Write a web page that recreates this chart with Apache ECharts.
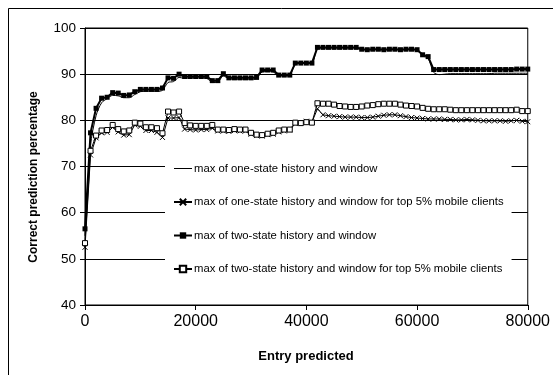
<!DOCTYPE html>
<html><head><meta charset="utf-8">
<script src="https://cdn.jsdelivr.net/npm/echarts@6/dist/echarts.min.js"></script>
<style>html,body{margin:0;padding:0;background:#fff}#c{width:553px;height:375px}</style>
</head><body><div id="c"></div>
<script>
var entries = [0,1000,2000,3000,4000,5000,6000,7000,8000,9000,10000,11000,12000,13000,14000,15000,16000,17000,18000,19000,20000,21000,22000,23000,24000,25000,26000,27000,28000,29000,30000,31000,32000,33000,34000,35000,36000,37000,38000,39000,40000,41000,42000,43000,44000,45000,46000,47000,48000,49000,50000,51000,52000,53000,54000,55000,56000,57000,58000,59000,60000,61000,62000,63000,64000,65000,66000,67000,68000,69000,70000,71000,72000,73000,74000,75000,76000,77000,78000,79000,80000];

var oneState = [55.0,74.5,81.0,83.8,84.7,85.4,85.3,84.9,84.9,85.6,86.2,86.3,86.3,86.3,86.5,88.2,88.4,89.3,89.1,89.2,89.2,89.2,89.1,88.2,88.3,89.6,89.0,88.9,88.9,88.9,88.9,89.1,90.5,90.6,90.5,89.6,89.6,89.7,92.2,92.3,92.3,92.3,95.6,95.7,95.7,95.7,95.7,95.7,95.7,95.7,95.3,95.3,95.3,95.3,95.3,95.3,95.3,95.3,95.3,95.3,95.3,94.0,93.4,90.4,89.9,90.0,90.1,90.1,90.1,90.1,90.1,90.1,90.1,90.1,90.2,90.2,90.2,90.2,90.2,90.2,90.2];

var oneStateTop = [52.5,72.5,76.2,77.3,77.4,78.5,77.5,76.8,76.9,79.0,78.7,77.8,77.8,77.4,76.3,80.5,80.5,80.6,78.1,78.0,77.9,78.0,78.0,78.3,77.7,77.7,77.6,77.8,77.7,77.7,77.0,76.7,76.6,76.9,77.0,77.5,77.7,77.9,79.3,79.5,79.8,79.6,82.5,81.2,81.0,80.9,80.8,80.7,80.7,80.7,80.6,80.6,80.7,80.9,81.1,81.2,81.2,81.0,80.8,80.6,80.5,80.4,80.3,80.3,80.3,80.2,80.2,80.1,80.1,80.2,80.1,80.0,79.9,79.9,79.9,79.9,79.8,79.9,80.0,79.8,79.7];

var twoState = [56.5,77.3,82.6,84.8,85.0,86.0,85.9,85.4,85.5,86.2,86.7,86.7,86.7,86.7,87.0,89.2,89.1,90.0,89.5,89.5,89.5,89.5,89.5,88.6,88.6,90.1,89.2,89.2,89.2,89.2,89.2,89.3,90.9,90.9,90.9,89.8,89.8,89.8,92.4,92.4,92.4,92.4,95.8,95.8,95.8,95.8,95.8,95.8,95.8,95.8,95.4,95.3,95.4,95.4,95.3,95.4,95.4,95.3,95.4,95.4,95.3,94.2,93.8,91.0,91.0,91.0,91.0,91.0,91.0,91.0,91.0,91.0,91.0,91.0,91.0,91.0,91.0,91.0,91.1,91.1,91.1];

var twoStateTop = [53.4,73.4,76.7,77.8,77.9,79.0,78.1,77.6,77.8,79.5,79.3,78.5,78.5,78.3,77.2,81.9,81.7,81.9,79.4,78.9,78.8,78.8,78.8,79.0,78.0,78.0,77.9,78.1,78.0,78.0,77.3,76.9,76.8,77.1,77.3,77.8,78.0,78.0,79.5,79.4,79.6,79.5,83.7,83.6,83.6,83.4,83.1,83.0,82.9,82.9,83.0,83.2,83.3,83.5,83.6,83.6,83.6,83.4,83.2,83.1,83.0,82.7,82.5,82.4,82.4,82.4,82.3,82.2,82.2,82.2,82.2,82.2,82.2,82.2,82.2,82.2,82.2,82.2,82.3,82.0,82.0];

var seriesNames = [
  'max of one-state history and window',
  'max of one-state history and window for top 5% mobile clients',
  'max of two-state history and window',
  'max of two-state history and window for top 5% mobile clients'
];
var yTicks = [40, 100, 10];
var xTicks = [0, 80000, 20000];
var xTitle = 'Entry predicted';
var yTitle = 'Correct prediction percentage';

function pairs(vals){ return entries.map(function(e,i){ return [e, vals[i]]; }); }

var FONT = '"Liberation Sans", Arial, sans-serif';
var chart = echarts.init(document.getElementById('c'), null, {renderer:'canvas'});
chart.setOption({
  animation: false,
  backgroundColor: '#fff',
  textStyle: {fontFamily: FONT, color: '#000'},
  grid: {left: 85, right: 25, top: 28, bottom: 70, show: true, borderColor: '#000', borderWidth: 1},
  xAxis: {
    type: 'value', min: xTicks[0], max: xTicks[1], interval: xTicks[2],
    axisLine: {lineStyle: {color: '#000', width: 1}},
    axisTick: {show: true, length: 5, lineStyle: {color: '#000'}},
    axisLabel: {fontSize: 16, color: '#000', margin: 9, fontFamily: FONT, formatter: function(v){ return String(v); }},
    splitLine: {show: false}
  },
  yAxis: {
    type: 'value', min: yTicks[0], max: yTicks[1], interval: yTicks[2],
    axisLine: {show: true, lineStyle: {color: '#000', width: 1}},
    axisTick: {show: true, length: 5, lineStyle: {color: '#000'}},
    axisLabel: {fontSize: 13.5, color: '#000', margin: 9, fontFamily: FONT},
    splitLine: {show: true, lineStyle: {color: '#000', width: 1}}
  },
  legend: {
    orient: 'vertical', left: 165, top: 152,
    padding: [11, 8, 12, 8],
    backgroundColor: '#fff',
    itemWidth: 18, itemHeight: 8, itemGap: 22.5,
    textStyle: {fontSize: 11.3, color: '#000', fontFamily: FONT, padding: [0,0,0,-3]},
    data: [
      {name: seriesNames[0], icon: 'path://M0,0L18,0L18,1L0,1Z'},
      seriesNames[1], seriesNames[2], seriesNames[3]
    ],
    z: 10
  },
  graphic: [
    {type: 'rect', shape: {x: 8.5, y: 8.5, width: 700, height: 500}, style: {fill: 'none', stroke: '#000', lineWidth: 1}, silent: true, z: -1},
    {type: 'text', x: 306, y: 356, style: {text: xTitle, font: 'bold 13px ' + FONT, fill: '#000', textAlign: 'center', textVerticalAlign: 'middle'}},
    {type: 'text', x: 34, y: 177, rotation: Math.PI/2, style: {text: yTitle, font: 'bold 12px ' + FONT, fill: '#000', textAlign: 'center', textVerticalAlign: 'middle'}}
  ],
  series: [
    {name: seriesNames[0], type: 'line', data: pairs(oneState), symbol: 'none', smooth: 0.3,
     lineStyle: {color: '#000', width: 1}, itemStyle: {color: '#000'}, z: 2},
    {name: seriesNames[1], type: 'line', data: pairs(oneStateTop), symbol: 'path://M0,0L10,10M10,0L0,10', symbolSize: 5,
     lineStyle: {color: '#000', width: 1}, itemStyle: {color: '#000', borderColor: '#000', borderWidth: 1}, z: 3},
    {name: seriesNames[2], type: 'line', data: pairs(twoState), symbol: 'rect', symbolSize: 5,
     lineStyle: {color: '#000', width: 2}, itemStyle: {color: '#000'}, z: 4},
    {name: seriesNames[3], type: 'line', data: pairs(twoStateTop), symbol: 'rect', symbolSize: 5,
     lineStyle: {color: '#000', width: 1}, itemStyle: {color: '#fff', borderColor: '#000', borderWidth: 1}, z: 5}
  ]
});
</script></body></html>
